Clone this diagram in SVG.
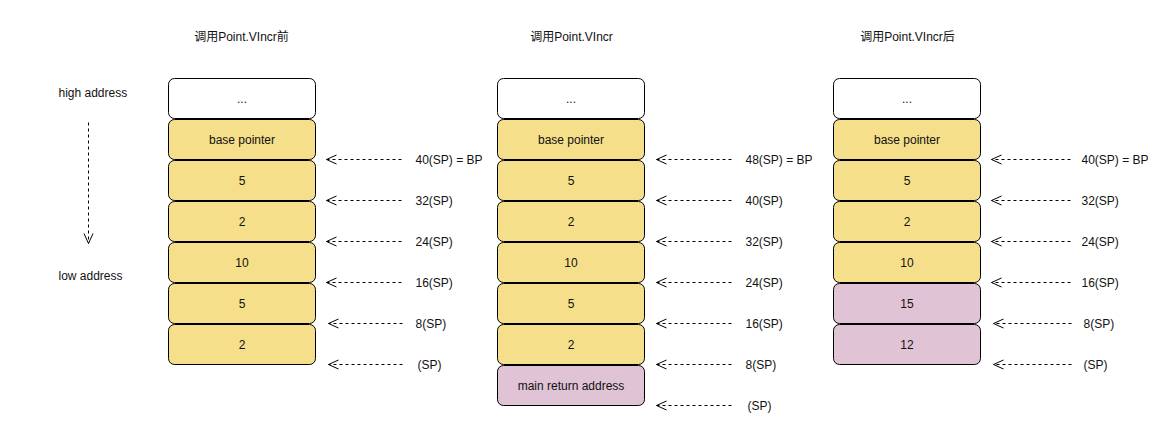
<svg xmlns="http://www.w3.org/2000/svg" width="1156" height="437" viewBox="0 0 1156 437">
<style>
text{font-family:"Liberation Sans",Arial,"Noto Sans CJK SC",sans-serif;font-size:12px;fill:#111;}
.c{text-anchor:middle;dominant-baseline:central;}
.l{dominant-baseline:central;}
.w{fill:#ffffff;stroke:#000;stroke-width:1;}
.y{fill:#F5DF8A;stroke:#000;stroke-width:1;}
.p{fill:#E0C4D6;stroke:#000;stroke-width:1;}
.a{fill:none;stroke:#000;stroke-width:1;stroke-dasharray:3 3;}
</style>
<defs>
<marker id="open" viewBox="0 0 12 12" refX="11" refY="6" markerWidth="12" markerHeight="12" markerUnits="userSpaceOnUse" orient="auto">
<path d="M1,1.5 L11,6 L1,10.5" fill="none" stroke="#000" stroke-width="1"/>
</marker>
</defs>
<g transform="translate(0.5,0.5)">
<g id="titles">
<text class="c" x="241" y="36">调用Point.VIncr前</text>
<text class="c" x="571" y="36">调用Point.VIncr</text>
<text class="c" x="907" y="36">调用Point.VIncr后</text>
</g>

<g id="legend">
<text class="l" x="58" y="92">high address</text>
<text class="l" x="58" y="275">low address</text>
</g>

<g id="col1">
<g id="c1n0"><rect class="w" x="168" y="78" width="147" height="40" rx="6"/><text class="c" x="241.5" y="98">...</text></g>
<g id="c1n1"><rect class="y" x="168" y="119" width="147" height="40" rx="6"/><text class="c" x="241.5" y="139">base pointer</text></g>
<g id="c1n2"><rect class="y" x="168" y="160" width="147" height="40" rx="6"/><text class="c" x="241.5" y="180">5</text></g>
<g id="c1n3"><rect class="y" x="168" y="201" width="147" height="40" rx="6"/><text class="c" x="241.5" y="221">2</text></g>
<g id="c1n4"><rect class="y" x="168" y="242" width="147" height="40" rx="6"/><text class="c" x="241.5" y="262">10</text></g>
<g id="c1n5"><rect class="y" x="168" y="283" width="147" height="40" rx="6"/><text class="c" x="241.5" y="303">5</text></g>
<g id="c1n6"><rect class="y" x="168" y="324" width="147" height="40" rx="6"/><text class="c" x="241.5" y="344">2</text></g>
</g>

<g id="col2">
<g id="c2n0"><rect class="w" x="497" y="78" width="147" height="40" rx="6"/><text class="c" x="570.5" y="98">...</text></g>
<g id="c2n1"><rect class="y" x="497" y="119" width="147" height="40" rx="6"/><text class="c" x="570.5" y="139">base pointer</text></g>
<g id="c2n2"><rect class="y" x="497" y="160" width="147" height="40" rx="6"/><text class="c" x="570.5" y="180">5</text></g>
<g id="c2n3"><rect class="y" x="497" y="201" width="147" height="40" rx="6"/><text class="c" x="570.5" y="221">2</text></g>
<g id="c2n4"><rect class="y" x="497" y="242" width="147" height="40" rx="6"/><text class="c" x="570.5" y="262">10</text></g>
<g id="c2n5"><rect class="y" x="497" y="283" width="147" height="40" rx="6"/><text class="c" x="570.5" y="303">5</text></g>
<g id="c2n6"><rect class="y" x="497" y="324" width="147" height="40" rx="6"/><text class="c" x="570.5" y="344">2</text></g>
<g id="c2n7"><rect class="p" x="497" y="365" width="147" height="40" rx="6"/><text class="c" x="570.5" y="385">main return address</text></g>
</g>

<g id="col3">
<g id="c3n0"><rect class="w" x="833" y="78" width="147" height="40" rx="6"/><text class="c" x="906.5" y="98">...</text></g>
<g id="c3n1"><rect class="y" x="833" y="119" width="147" height="40" rx="6"/><text class="c" x="906.5" y="139">base pointer</text></g>
<g id="c3n2"><rect class="y" x="833" y="160" width="147" height="40" rx="6"/><text class="c" x="906.5" y="180">5</text></g>
<g id="c3n3"><rect class="y" x="833" y="201" width="147" height="40" rx="6"/><text class="c" x="906.5" y="221">2</text></g>
<g id="c3n4"><rect class="y" x="833" y="242" width="147" height="40" rx="6"/><text class="c" x="906.5" y="262">10</text></g>
<g id="c3n5"><rect class="p" x="833" y="283" width="147" height="40" rx="6"/><text class="c" x="906.5" y="303">15</text></g>
<g id="c3n6"><rect class="p" x="833" y="324" width="147" height="40" rx="6"/><text class="c" x="906.5" y="344">12</text></g>
</g>

<g id="labels">
<text class="l" x="415" y="159">40(SP) = BP</text>
<text class="l" x="415" y="200">32(SP)</text>
<text class="l" x="415" y="241">24(SP)</text>
<text class="l" x="415" y="282">16(SP)</text>
<text class="l" x="415" y="323">8(SP)</text>
<text class="l" x="417" y="364">(SP)</text>

<text class="l" x="745" y="159">48(SP) = BP</text>
<text class="l" x="745" y="200">40(SP)</text>
<text class="l" x="745" y="241">32(SP)</text>
<text class="l" x="745" y="282">24(SP)</text>
<text class="l" x="745" y="323">16(SP)</text>
<text class="l" x="745" y="364">8(SP)</text>
<text class="l" x="747" y="405">(SP)</text>

<text class="l" x="1081" y="159">40(SP) = BP</text>
<text class="l" x="1081" y="200">32(SP)</text>
<text class="l" x="1081" y="241">24(SP)</text>
<text class="l" x="1081" y="282">16(SP)</text>
<text class="l" x="1083" y="323">8(SP)</text>
<text class="l" x="1083" y="364">(SP)</text>
</g>

<g id="connectors">
<path class="a" d="M88,122 V243" marker-end="url(#open)"/>

<path class="a" d="M401,159 H326" marker-end="url(#open)"/>
<path class="a" d="M401,200 H326" marker-end="url(#open)"/>
<path class="a" d="M401,241 H326" marker-end="url(#open)"/>
<path class="a" d="M401,282 H326" marker-end="url(#open)"/>
<path class="a" d="M402,323 H328" marker-end="url(#open)"/>
<path class="a" d="M402,364 H328" marker-end="url(#open)"/>

<path class="a" d="M731,159 H656" marker-end="url(#open)"/>
<path class="a" d="M731,200 H656" marker-end="url(#open)"/>
<path class="a" d="M731,241 H656" marker-end="url(#open)"/>
<path class="a" d="M731,282 H656" marker-end="url(#open)"/>
<path class="a" d="M731,323 H656" marker-end="url(#open)"/>
<path class="a" d="M731,364 H656" marker-end="url(#open)"/>
<path class="a" d="M731,405 H656" marker-end="url(#open)"/>

<path class="a" d="M1070,159 H991" marker-end="url(#open)"/>
<path class="a" d="M1070,200 H991" marker-end="url(#open)"/>
<path class="a" d="M1070,241 H991" marker-end="url(#open)"/>
<path class="a" d="M1070,282 H991" marker-end="url(#open)"/>
<path class="a" d="M1071,323 H993" marker-end="url(#open)"/>
<path class="a" d="M1071,364 H993" marker-end="url(#open)"/>
</g>
</g>
</svg>
